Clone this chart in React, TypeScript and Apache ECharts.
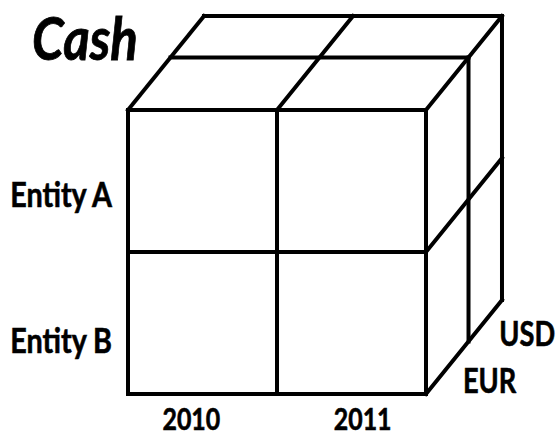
import React, { useEffect, useRef } from "react";
import * as echarts from "echarts";

// ---- data ----
const titleText = "Cash";
const columns = ["2010", "2011"];
const rows = ["Entity A", "Entity B"];
const depths = ["EUR", "USD"];

// ---- oblique projection parameters (axis units) ----
const DEPTH_X = 0.51; // horizontal shift of the full depth, in column units
const DEPTH_Y = 0.662; // vertical shift of the full depth, in row units
const PERSPECTIVE = 0.27; // foreshortening of the depth slices

const C = columns.length;
const R = rows.length;
const D = depths.length;

function depthFrac(d: number) {
  return (d * (1 + PERSPECTIVE)) / (D + PERSPECTIVE * d);
}
function project(c: number, r: number, d: number): [number, number] {
  const f = depthFrac(d);
  return [c + DEPTH_X * f, r - DEPTH_Y * f];
}

// edges of the cube, built from the category counts
const segments: number[][] = [];
for (let c = 0; c <= C; c++) segments.push([c, 0, 0, c, R, 0]);
for (let r = 0; r <= R; r++) segments.push([0, r, 0, C, r, 0]);
for (let d = 1; d <= D; d++) segments.push([0, 0, d, C, 0, d]);
for (let c = 0; c <= C; c++) segments.push([c, 0, 0, c, 0, D]);
for (let d = 1; d <= D; d++) segments.push([C, 0, d, C, R, d]);
for (let r = 1; r <= R; r++) segments.push([C, r, 0, C, r, D]);

// label items: [kind, index]  kind 0 = row, 1 = column, 2 = depth
const labelItems: number[][] = [
  ...rows.map((_, i) => [0, i]),
  ...columns.map((_, i) => [1, i]),
  ...depths.map((_, i) => [2, i]),
];

const FONT = "Lato";

export default function App() {
  const ref = useRef<HTMLDivElement>(null);
  useEffect(() => {
    if (!ref.current) return;
    const chart = echarts.init(ref.current, undefined, { renderer: "svg" });
    chart.setOption({
      animation: false,
      backgroundColor: "#ffffff",
      grid: { left: 128, top: 110, width: 298, height: 284 },
      xAxis: { type: "value", min: 0, max: C, show: false },
      yAxis: { type: "value", min: 0, max: R, inverse: true, show: false },
      graphic: [
        {
          type: "text",
          x: 32,
          y: 37,
          scaleX: 0.85,
          style: {
            text: titleText,
            fontFamily: FONT,
            fontWeight: "bold",
            fontStyle: "italic",
            fontSize: 60,
            fill: "#000",
            stroke: "#000",
            lineWidth: 0.8,
            textAlign: "left",
            textVerticalAlign: "middle",
          },
        },
      ],
      series: [
        {
          type: "custom",
          clip: false,
          silent: true,
          data: segments,
          renderItem: (_params: any, api: any) => {
            const p1 = api.coord(project(api.value(0), api.value(1), api.value(2)));
            const p2 = api.coord(project(api.value(3), api.value(4), api.value(5)));
            return {
              type: "line",
              shape: { x1: p1[0], y1: p1[1], x2: p2[0], y2: p2[1] },
              style: { stroke: "#000", lineWidth: 4, lineCap: "square" },
            };
          },
        },
        {
          type: "custom",
          clip: false,
          silent: true,
          data: labelItems,
          renderItem: (_params: any, api: any) => {
            const kind = api.value(0);
            const i = api.value(1);
            let x = 0;
            let y = 0;
            let text = "";
            let align = "center";
            let scaleX = 0.8;
            let size = 34;
            if (kind === 0) {
              const p = api.coord([0, i * 1.03 + 0.59]);
              x = p[0] - 16;
              y = p[1];
              text = rows[i];
              align = "right";
              scaleX = 0.845;
            } else if (kind === 1) {
              const p = api.coord([i + 0.5, R]);
              const mid = api.coord([C / 2, R]);
              x = mid[0] + (p[0] - mid[0]) * 1.15;
              y = p[1] + 24.5;
              text = columns[i];
              scaleX = 0.83;
              size = 30;
            } else {
              const p = api.coord(project(C, R, i + 0.5));
              x = p[0] + 41;
              y = p[1] + 14;
              text = depths[i];
              scaleX = 0.8;
            }
            return {
              type: "text",
              x,
              y,
              scaleX,
              style: {
                text,
                fontFamily: FONT,
                fontWeight: "bold",
                fontSize: size,
                fill: "#000",
                stroke: "#000",
                lineWidth: 0.6,
                textAlign: align,
                textVerticalAlign: "middle",
              },
            };
          },
        },
      ],
    });
    return () => chart.dispose();
  }, []);
  return (
    <div
      ref={ref}
      style={{ position: "absolute", left: 0, top: 0, width: 559, height: 438 }}
    />
  );
}
